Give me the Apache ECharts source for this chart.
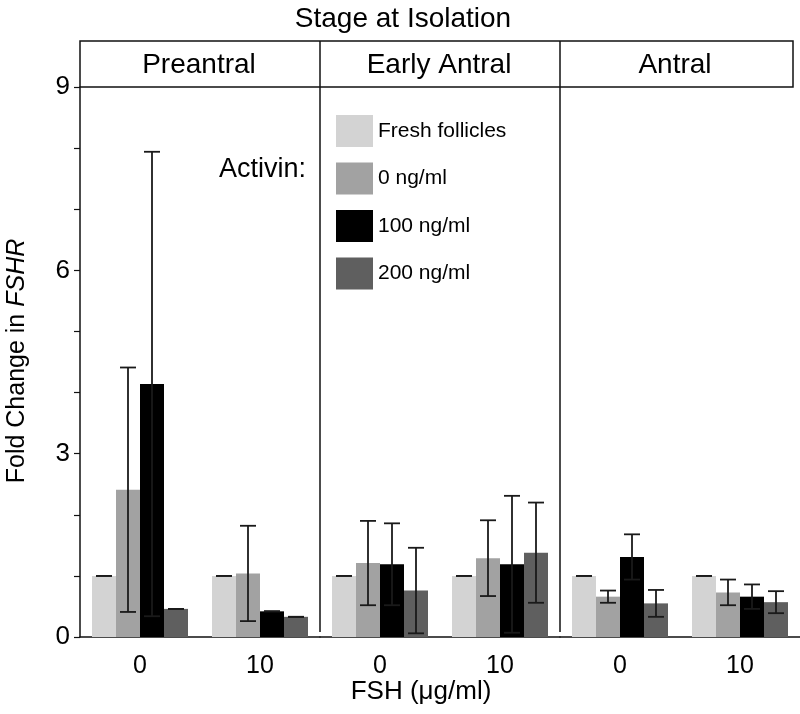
<!DOCTYPE html>
<html>
<head>
<meta charset="utf-8">
<script src="https://cdn.jsdelivr.net/npm/echarts@6/dist/echarts.min.js"></script>
<style>html,body{margin:0;padding:0;background:#fff;}#chart{width:800px;height:714px;}</style>
</head>
<body>
<div id="chart"></div>
<script>
const stages = ['Preantral', 'Early Antral', 'Antral'];
const fshLevels = ['0', '10'];
const activinGroups = ['Fresh follicles', '0 ng/ml', '100 ng/ml', '200 ng/ml'];
const groupColors = ['#d3d3d3', '#a2a2a2', '#000000', '#5f5f5f'];
const yTicks = [0, 3, 6, 9];

// Means: rows = group (fresh, 0, 100, 200 ng/ml activin), cols = FSH level (0, 10)
const preantralMean = [[1.0, 1.0], [2.41, 1.04], [4.14, 0.42], [0.46, 0.33]];
const preantralErr  = [[0, 0], [2.0, 0.78], [3.8, 0], [0, 0]];
const earlyAntralMean = [[1.0, 1.0], [1.21, 1.29], [1.19, 1.19], [0.76, 1.38]];
const earlyAntralErr  = [[0, 0], [0.69, 0.62], [0.67, 1.12], [0.70, 0.82]];
const antralMean = [[1.0, 1.0], [0.66, 0.73], [1.31, 0.66], [0.55, 0.57]];
const antralErr  = [[0, 0], [0.10, 0.21], [0.37, 0.20], [0.22, 0.18]];

const stageMeans = [preantralMean, earlyAntralMean, antralMean];
const stageErrs = [preantralErr, earlyAntralErr, antralErr];

const FONT = 'Liberation Sans, Arial, sans-serif';
const gridLeft = 80, gridTop = 87, gridH = 550, panelW = 240;

const grids = [], xAxes = [], yAxes = [], series = [];
stages.forEach((st, s) => {
  grids.push({left: gridLeft + panelW * s, top: gridTop, width: panelW, height: gridH});
  xAxes.push({
    type: 'category', gridIndex: s, data: fshLevels,
    axisLine: {show: true, lineStyle: {color: '#111', width: 1.5}},
    axisTick: {show: false},
    axisLabel: {fontSize: 25, color: '#000', fontFamily: FONT, margin: 17}
  });
  yAxes.push({
    type: 'value', gridIndex: s, min: yTicks[0], max: yTicks[yTicks.length - 1], interval: 3,
    show: s === 0,
    axisLine: {show: true, lineStyle: {color: '#111', width: 1.5}},
    axisTick: {show: true, length: 6, lineStyle: {color: '#111', width: 1.2}},
    minorTick: {show: true, splitNumber: 3, length: 6, lineStyle: {color: '#111', width: 1.2}},
    splitLine: {show: false},
    axisLabel: {fontSize: 26, color: '#000', fontFamily: FONT, margin: 10}
  });
  activinGroups.forEach((g, gi) => {
    series.push({
      type: 'bar', name: g, xAxisIndex: s, yAxisIndex: s,
      data: stageMeans[s][gi],
      barGap: '0%', barCategoryGap: '20%',
      itemStyle: {color: groupColors[gi]},
      emphasis: {disabled: true}
    });
  });
  const errData = [];
  activinGroups.forEach((g, gi) => {
    fshLevels.forEach((f, fi) => {
      errData.push([fi, stageMeans[s][gi][fi], stageErrs[s][gi][fi], gi]);
    });
  });
  series.push({
    type: 'custom', xAxisIndex: s, yAxisIndex: s, z: 10, silent: true,
    data: errData,
    encode: {x: 0, y: 1},
    renderItem: function (params, api) {
      const ci = api.value(0), m = api.value(1), e = api.value(2), gi = api.value(3);
      const catW = api.size([1, 0])[0];
      const bw = catW * 0.8 / 4;
      const cx = api.coord([ci, m])[0] + (gi - 1.5) * bw;
      const top = api.coord([ci, m + e])[1];
      const bot = api.coord([ci, Math.max(0, m - e)])[1];
      const hw = 8;
      const st = {stroke: '#1a1a1a', lineWidth: 1.8};
      return {type: 'group', children: [
        {type: 'line', shape: {x1: cx, y1: top, x2: cx, y2: bot}, style: st},
        {type: 'line', shape: {x1: cx - hw, y1: top, x2: cx + hw, y2: top}, style: st},
        {type: 'line', shape: {x1: cx - hw, y1: bot, x2: cx + hw, y2: bot}, style: st}
      ]};
    }
  });
});

const headerCenters = [199, 439, 675];
const graphics = [
  {type: 'rect', shape: {x: 80, y: 41, width: 713, height: 46}, style: {fill: 'none', stroke: '#111', lineWidth: 1.5}, z: 20},
  {type: 'line', shape: {x1: 320, y1: 41, x2: 320, y2: 632}, style: {stroke: '#111', lineWidth: 1.5}, z: 20},
  {type: 'line', shape: {x1: 560, y1: 41, x2: 560, y2: 632}, style: {stroke: '#111', lineWidth: 1.5}, z: 20},
  {type: 'text', x: 306, y: 170, style: {text: 'Activin:', fontSize: 27, fontFamily: FONT, fill: '#000', textAlign: 'right', textVerticalAlign: 'middle'}, z: 20},
  {type: 'text', x: 421, y: 692, style: {text: 'FSH (\u03bcg/ml)', fontSize: 26, fontFamily: FONT, fill: '#000', textAlign: 'center', textVerticalAlign: 'middle'}, z: 20},
  {type: 'text', x: 17, y: 361, rotation: Math.PI / 2, style: {
    text: '{a|Fold Change in }{b|FSHR}', textAlign: 'center', textVerticalAlign: 'middle',
    rich: {a: {fontSize: 25, fontFamily: FONT, fill: '#000'}, b: {fontSize: 25, fontFamily: FONT, fontStyle: 'italic', fill: '#000'}}
  }, z: 20}
];
stages.forEach((st, s) => {
  graphics.push({type: 'text', x: headerCenters[s], y: 65, style: {text: st, fontSize: 28, fontFamily: FONT, fill: '#000', textAlign: 'center', textVerticalAlign: 'middle'}, z: 20});
});

const chart = echarts.init(document.getElementById('chart'), null, {renderer: 'canvas'});
chart.setOption({
  animation: false,
  backgroundColor: '#fff',
  title: {text: 'Stage at Isolation', left: 398, textAlign: 'center', top: 0, textStyle: {fontSize: 28, fontWeight: 'normal', fontFamily: FONT, color: '#000'}},
  legend: {
    data: activinGroups, orient: 'vertical', left: 331, top: 110,
    icon: 'rect', itemWidth: 37, itemHeight: 32, itemGap: 15.5,
    textStyle: {fontSize: 21, fontFamily: FONT, color: '#000', padding: [0, 0, 0, 0]},
    selectedMode: false
  },
  grid: grids, xAxis: xAxes, yAxis: yAxes, series: series,
  graphic: graphics
});
</script>
</body>
</html>
